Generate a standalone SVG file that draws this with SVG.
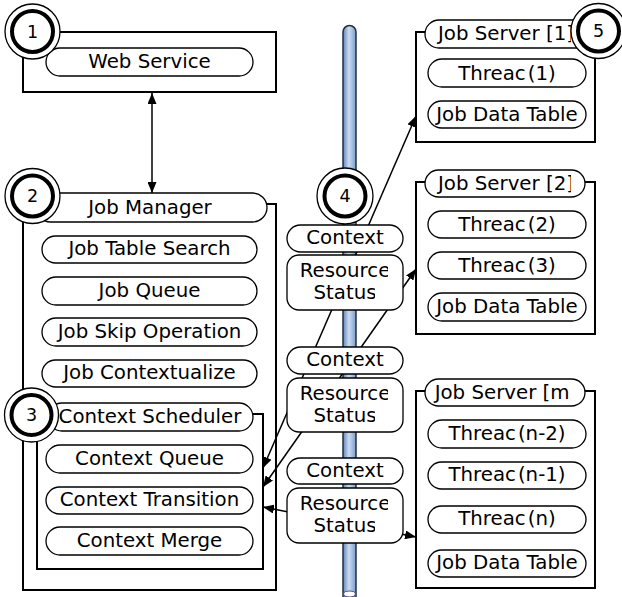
<svg xmlns="http://www.w3.org/2000/svg" width="622" height="597" viewBox="0 0 622 597">
  <style>
    .box { fill: #fff; stroke: #000; stroke-width: 2; }
    .frame { fill: none; stroke: #000; stroke-width: 2; }
    .pill { fill: #fff; stroke: #000; stroke-width: 1.3; }
    .lbl { font-family: "DejaVu Sans", Verdana, sans-serif; font-size: 19.8px; fill: #000; text-anchor: middle; }
    .num { font-family: "DejaVu Sans", Verdana, sans-serif; font-size: 17.5px; fill: #000; text-anchor: middle; }
    .ring-o { fill: #fff; stroke: #000; stroke-width: 1.3; }
    .ring-i { fill: #fff; stroke: #000; stroke-width: 4; }
    .wire { fill: none; stroke: #000; stroke-width: 1.5; marker-start: url(#ah); marker-end: url(#ah); }
  </style>
  <defs>
    <marker id="ah" viewBox="0 0 11 9" refX="11" refY="4.5" markerWidth="11" markerHeight="9" markerUnits="userSpaceOnUse" orient="auto-start-reverse">
      <path d="M0,0 L11,4.5 L0,9 z" fill="#000"/>
    </marker>
    <linearGradient id="pipeFill" x1="0" y1="0" x2="1" y2="0">
      <stop offset="0" stop-color="#5f86bd"/>
      <stop offset="0.45" stop-color="#cbdcf0"/>
      <stop offset="1" stop-color="#7a9dcb"/>
    </linearGradient>
    <clipPath id="clipSkip"><rect x="40" y="310" width="201" height="40"/></clipPath>
    <clipPath id="clipCtxz"><rect x="40" y="355" width="195" height="40"/></clipPath>
    <clipPath id="clipRes"><rect x="285" y="250" width="103" height="300"/></clipPath>
    <clipPath id="clipStat"><rect x="285" y="250" width="90" height="300"/></clipPath>
    <clipPath id="clipSrv"><rect x="420" y="10" width="151" height="400"/></clipPath>
  </defs>

  <!-- message bus -->
  <g id="bus">
    <path d="M343,32 a6.5,6.5 0 0 1 13,0 V600 H343 Z" fill="url(#pipeFill)" stroke="#22303f" stroke-width="1.5"/>
    <ellipse cx="349.5" cy="594" rx="6" ry="3" fill="#fff" stroke="#5a4f8c" stroke-width="1.2"/>
  </g>

  <!-- connectors -->
  <g id="connectors">
    <line class="wire" x1="152" y1="93" x2="152" y2="193"/>
    <line class="wire" x1="416" y1="116" x2="263" y2="468"/>
    <line class="wire" x1="416" y1="269" x2="263" y2="487"/>
    <line class="wire" x1="263" y1="507" x2="416" y2="537"/>
  </g>

  <!-- 1: web service -->
  <g id="web-service">
    <rect class="box" x="23" y="32" width="253" height="60"/>
    <rect class="pill" x="46" y="48" width="207" height="28" rx="14"/>
    <text class="lbl" x="149.5" y="68">Web Service</text>
  </g>

  <!-- 2: job manager -->
  <g id="job-manager">
    <rect class="frame" x="23" y="204" width="253" height="386"/>
    <rect class="pill" x="36" y="193" width="231" height="29" rx="14.5"/>
    <text class="lbl" x="150" y="213.5">Job Manager</text>
    <rect class="pill" x="42" y="236" width="215" height="27" rx="13.5"/>
    <text class="lbl" x="149.5" y="255">Job Table Search</text>
    <rect class="pill" x="42" y="277" width="215" height="28" rx="14"/>
    <text class="lbl" x="149.5" y="296.5">Job Queue</text>
    <rect class="pill" x="42" y="318" width="215" height="28" rx="14"/>
    <text class="lbl" x="149.5" y="337.5" clip-path="url(#clipSkip)">Job Skip Operation</text>
    <rect class="pill" x="42" y="360" width="215" height="27" rx="13.5"/>
    <text class="lbl" x="149.5" y="379" clip-path="url(#clipCtxz)">Job Contextualize</text>
  </g>

  <!-- 3: context scheduler -->
  <g id="context-scheduler">
    <rect class="frame" x="37" y="414" width="226" height="155"/>
    <rect class="pill" x="48" y="403" width="205" height="28" rx="14"/>
    <text class="lbl" x="150" y="422.5">Context Scheduler</text>
    <rect class="pill" x="46" y="445" width="207" height="28" rx="14"/>
    <text class="lbl" x="149.5" y="464.5">Context Queue</text>
    <rect class="pill" x="46" y="487" width="207" height="27" rx="13.5"/>
    <text class="lbl" x="149.5" y="506">Context Transition</text>
    <rect class="pill" x="46" y="527" width="207" height="28" rx="14"/>
    <text class="lbl" x="149.5" y="546.5">Context Merge</text>
  </g>

  <!-- 4: messages on the bus -->
  <g id="bus-messages">
    <rect class="pill" x="287" y="225" width="116" height="27" rx="13.5"/>
    <text class="lbl" x="345" y="244">Context</text>
    <rect class="pill" x="287" y="255" width="116" height="55" rx="12"/>
    <text class="lbl" x="345" y="277" clip-path="url(#clipRes)">Resource</text>
    <text class="lbl" x="345" y="299" clip-path="url(#clipStat)">Status</text>

    <rect class="pill" x="287" y="347" width="116" height="27" rx="13.5"/>
    <text class="lbl" x="345" y="366">Context</text>
    <rect class="pill" x="287" y="378" width="116" height="54" rx="12"/>
    <text class="lbl" x="345" y="400" clip-path="url(#clipRes)">Resource</text>
    <text class="lbl" x="345" y="422" clip-path="url(#clipStat)">Status</text>

    <rect class="pill" x="287" y="458" width="116" height="26" rx="13"/>
    <text class="lbl" x="345" y="477">Context</text>
    <rect class="pill" x="287" y="488" width="116" height="55" rx="12"/>
    <text class="lbl" x="345" y="510" clip-path="url(#clipRes)">Resource</text>
    <text class="lbl" x="345" y="532" clip-path="url(#clipStat)">Status</text>
  </g>

  <!-- 5: job servers -->
  <g id="job-server-1">
    <rect class="frame" x="416" y="32" width="179" height="110"/>
    <rect class="pill" x="425" y="20" width="165" height="28" rx="14"/>
    <text class="lbl" x="506" y="40" clip-path="url(#clipSrv)">Job Server [1]</text>
    <rect class="pill" x="428" y="59" width="158" height="28" rx="14"/>
    <text class="lbl" x="507" y="79.5">Threac<tspan dx="2">(1)</tspan></text>
    <rect class="pill" x="428" y="101" width="158" height="27" rx="13.5"/>
    <text class="lbl" x="507" y="120.5">Job Data Table</text>
  </g>

  <g id="job-server-2">
    <rect class="frame" x="416" y="182" width="179" height="152"/>
    <rect class="pill" x="425" y="170" width="160" height="27" rx="13.5"/>
    <text class="lbl" x="506" y="190" clip-path="url(#clipSrv)">Job Server [2]</text>
    <rect class="pill" x="428" y="211" width="158" height="27" rx="13.5"/>
    <text class="lbl" x="507" y="231">Threac<tspan dx="2">(2)</tspan></text>
    <rect class="pill" x="428" y="252" width="158" height="27" rx="13.5"/>
    <text class="lbl" x="507" y="272">Threac<tspan dx="2">(3)</tspan></text>
    <rect class="pill" x="428" y="293" width="158" height="28" rx="14"/>
    <text class="lbl" x="507" y="313">Job Data Table</text>
  </g>

  <g id="job-server-m">
    <rect class="frame" x="416" y="391" width="179" height="197"/>
    <rect class="pill" x="425" y="379" width="160" height="27" rx="13.5"/>
    <text class="lbl" x="506" y="399" clip-path="url(#clipSrv)">Job Server [m]</text>
    <rect class="pill" x="428" y="420" width="158" height="28" rx="14"/>
    <text class="lbl" x="507" y="440">Threac<tspan dx="2">(n-2)</tspan></text>
    <rect class="pill" x="428" y="462" width="158" height="27" rx="13.5"/>
    <text class="lbl" x="507" y="481">Threac<tspan dx="2">(n-1)</tspan></text>
    <rect class="pill" x="428" y="506" width="158" height="27" rx="13.5"/>
    <text class="lbl" x="507" y="525">Threac<tspan dx="2">(n)</tspan></text>
    <rect class="pill" x="428" y="550" width="158" height="27" rx="13.5"/>
    <text class="lbl" x="507" y="569">Job Data Table</text>
  </g>

  <!-- numbered markers -->
  <g id="marker-1">
    <circle class="ring-o" cx="32.5" cy="31.5" r="27.5"/>
    <circle class="ring-i" cx="32.5" cy="31.5" r="20.5"/>
    <text class="num" x="32.5" y="37.5">1</text>
  </g>
  <g id="marker-2">
    <circle class="ring-o" cx="32.5" cy="196" r="27.5"/>
    <circle class="ring-i" cx="32.5" cy="196" r="20.5"/>
    <text class="num" x="32.5" y="202">2</text>
  </g>
  <g id="marker-3">
    <circle class="ring-o" cx="31.5" cy="415" r="27"/>
    <circle class="ring-i" cx="31.5" cy="415" r="20"/>
    <text class="num" x="31.5" y="421">3</text>
  </g>
  <g id="marker-4">
    <circle class="ring-o" cx="345" cy="196" r="28"/>
    <circle class="ring-i" cx="345" cy="196" r="20.5"/>
    <text class="num" x="345" y="202">4</text>
  </g>
  <g id="marker-5">
    <circle class="ring-o" cx="598.5" cy="31" r="27.5"/>
    <circle class="ring-i" cx="598.5" cy="31" r="20.5"/>
    <text class="num" x="598.5" y="37">5</text>
  </g>
</svg>
